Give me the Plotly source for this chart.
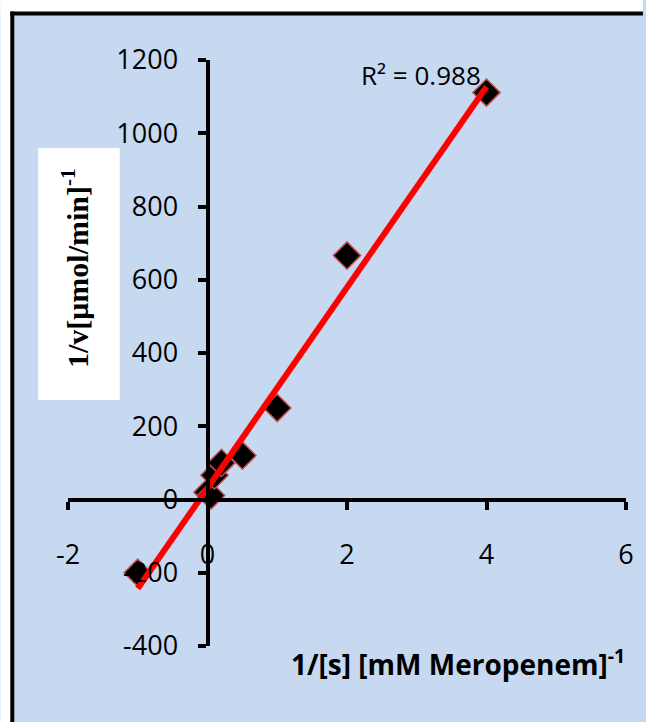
import plotly.graph_objects as go

# Lineweaver-Burk data: 1/[S] versus 1/v
inv_s = [-1.0, 0.0, 0.05, 0.1, 0.2, 0.5, 1.0, 2.0, 4.0]
inv_v = [-200, 20, 11, 66, 100, 120, 250, 666, 1111]

# linear trendline as reported on the chart
trend_slope = 274.0
trend_intercept = 31.0
r_squared_label = "R² = 0.988"

x_ticks = [-2, 0, 2, 4, 6]
y_ticks = [-400, -200, 0, 200, 400, 600, 800, 1000, 1200]

BLUE = "#C6D9F0"
TICK_FONT = dict(family="Open Sans", size=27, color="black")

# plot-area geometry in pixels (for placing shapes/annotations)
W, H = 646, 722
L, R, T, B = 68, 629, 60, 646


def px(x):
    return (x - L) / (R - L)


def py(y):
    return (B - y) / (B - T)


x_line = [min(inv_s), max(inv_s)]
y_line = [trend_intercept + trend_slope * v for v in x_line]

fig = go.Figure()

fig.add_trace(go.Scatter(
    x=inv_s, y=inv_v, mode="markers",
    marker=dict(symbol="diamond", size=21, color="black",
                line=dict(color="#C0504D", width=1.5)),
    showlegend=False, cliponaxis=False,
))

fig.add_trace(go.Scatter(
    x=x_line, y=y_line, mode="lines",
    line=dict(color="#FF0000", width=6),
    showlegend=False, cliponaxis=False,
))

shapes = [
    # white margin strips outside the chart frame
    dict(type="rect", xref="paper", yref="paper",
         x0=px(0), x1=px(W), y0=py(0), y1=py(12),
         fillcolor="white", line=dict(width=0), layer="below"),
    dict(type="rect", xref="paper", yref="paper",
         x0=px(0), x1=px(11), y0=py(0), y1=py(H),
         fillcolor="white", line=dict(width=0), layer="below"),
    # thick black frame (left and top edges)
    dict(type="rect", xref="paper", yref="paper",
         x0=px(10), x1=px(14), y0=py(11.5), y1=py(H),
         fillcolor="black", line=dict(width=0), layer="below"),
    dict(type="rect", xref="paper", yref="paper",
         x0=px(10), x1=px(W), y0=py(11.5), y1=py(15.5),
         fillcolor="black", line=dict(width=0), layer="below"),
    # white box behind the vertical axis title
    dict(type="rect", xref="paper", yref="paper",
         x0=px(38), x1=px(120), y0=py(148), y1=py(400),
         fillcolor="white", line=dict(width=0), layer="below"),
]

annotations = [
    dict(text="<b>1/v[μmol/min]<sup>-1</sup></b>", textangle=-90,
         xref="paper", yref="paper", x=px(75), y=py(268),
         xanchor="center", yanchor="middle", showarrow=False,
         font=dict(family="Liberation Serif", size=30, color="black")),
    dict(text="<b>1/[s] [mM Meropenem]<sup>-1</sup></b>",
         xref="paper", yref="paper", x=px(290), y=py(662),
         xanchor="left", yanchor="middle", showarrow=False,
         font=dict(family="Open Sans", size=28, color="black")),
    dict(text=r_squared_label,
         xref="paper", yref="paper", x=px(361), y=py(75),
         xanchor="left", yanchor="middle", showarrow=False,
         font=dict(family="Open Sans", size=26, color="black")),
]

fig.update_layout(
    width=W, height=H,
    margin=dict(l=L, r=W - R, t=T, b=H - B, pad=0),
    paper_bgcolor=BLUE,
    plot_bgcolor="rgba(0,0,0,0)",
    shapes=shapes,
    annotations=annotations,
    xaxis=dict(
        range=[-2, 6], tickvals=x_ticks, ticktext=[str(v) for v in x_ticks],
        anchor="free", position=0.25,
        showline=True, linecolor="black", linewidth=4,
        ticks="outside", ticklen=8, tickwidth=4, tickcolor="black",
        ticklabelstandoff=22,
        showgrid=False, zeroline=False, tickfont=TICK_FONT,
    ),
    yaxis=dict(
        range=[-400, 1200], tickvals=y_ticks, ticktext=[str(v) for v in y_ticks],
        anchor="free", position=0.25,
        showline=True, linecolor="black", linewidth=4,
        ticks="outside", ticklen=8, tickwidth=4, tickcolor="black",
        ticklabelstandoff=14,
        showgrid=False, zeroline=False, tickfont=TICK_FONT,
    ),
)

# keep the page exactly the size of the figure (no scrollbars)
page_css = (
    "document.documentElement.style.overflow='hidden';"
    "document.body.style.margin='0';"
    "document.body.style.overflow='hidden';"
)
fig.write_html("out.html", post_script=page_css)
